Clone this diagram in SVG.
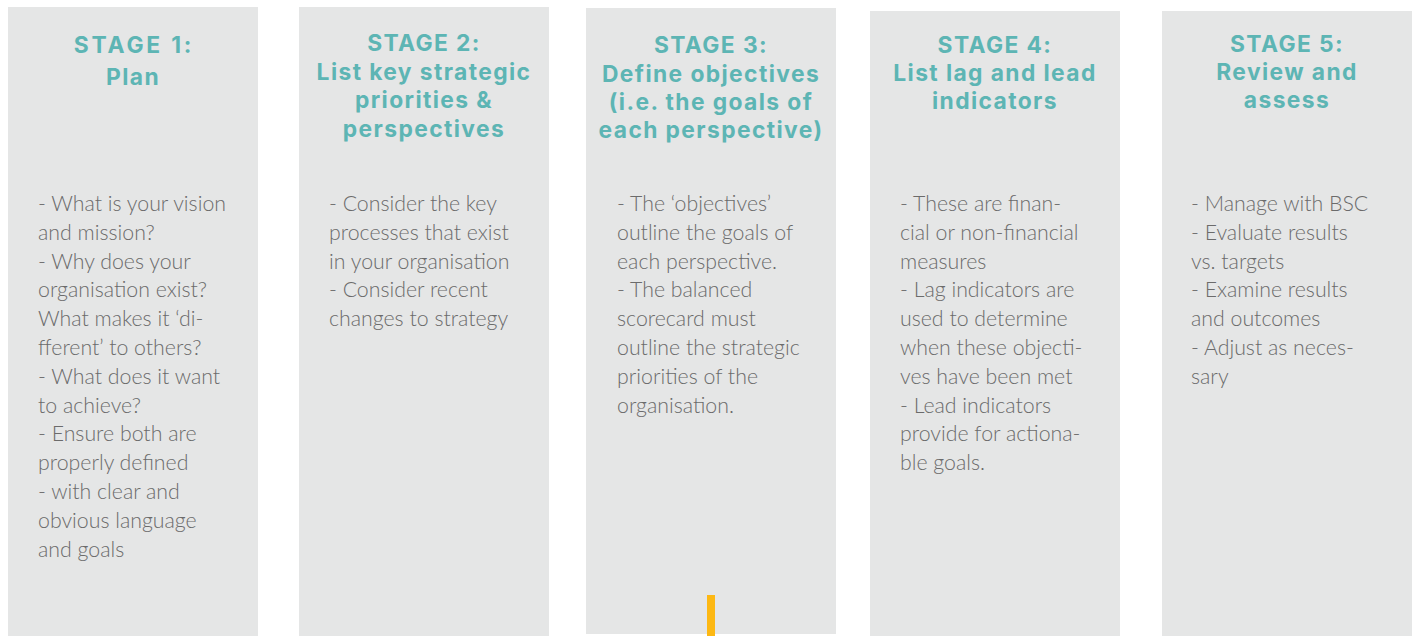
<svg xmlns="http://www.w3.org/2000/svg" width="1415" height="636" viewBox="0 0 1415 636">
  <style>
    .panel { fill: #e5e6e6; }
    .title { font-family: Inter, Roboto, "Liberation Sans", sans-serif; font-weight: 700; font-size: 22.8px; letter-spacing: 1.4px; fill: #5db5b4; text-anchor: middle; }
    .title.wide { letter-spacing: 2.8px; }
    .body { font-family: Lato, "Open Sans", "Liberation Sans", sans-serif; font-weight: 300; font-size: 21.3px; fill: #6b6b6b; }
  </style>
  <rect width="1415" height="636" fill="#ffffff"/>

  <!-- Stage 1 -->
  <g id="stage1">
    <rect class="panel" x="8" y="7" width="250" height="629"/>
    <text class="title wide" x="134" y="53">STAGE 1:</text>
    <text class="title" x="133" y="85">Plan</text>
    <text class="body" x="38" y="211">
      <tspan x="38" dy="0">- What is your vision</tspan>
      <tspan x="38" dy="28.8">and mission?</tspan>
      <tspan x="38" dy="28.8">- Why does your</tspan>
      <tspan x="38" dy="28.8">organisation exist?</tspan>
      <tspan x="38" dy="28.8">What makes it ‘di-</tspan>
      <tspan x="38" dy="28.8">fferent’ to others?</tspan>
      <tspan x="38" dy="28.8">- What does it want</tspan>
      <tspan x="38" dy="28.8">to achieve?</tspan>
      <tspan x="38" dy="28.8">- Ensure both are</tspan>
      <tspan x="38" dy="28.8">properly defined</tspan>
      <tspan x="38" dy="28.8">- with clear and</tspan>
      <tspan x="38" dy="28.8">obvious language</tspan>
      <tspan x="38" dy="28.8">and goals</tspan>
    </text>
  </g>

  <!-- Stage 2 -->
  <g id="stage2">
    <rect class="panel" x="299" y="7" width="250" height="629"/>
    <text class="title" x="424" y="51">STAGE 2:</text>
    <text class="title" x="424" y="80">List key strategic</text>
    <text class="title" x="424" y="108">priorities &amp;</text>
    <text class="title" x="424" y="137">perspectives</text>
    <text class="body" x="329" y="211">
      <tspan x="329" dy="0">- Consider the key</tspan>
      <tspan x="329" dy="28.8">processes that exist</tspan>
      <tspan x="329" dy="28.8">in your organisation</tspan>
      <tspan x="329" dy="28.8">- Consider recent</tspan>
      <tspan x="329" dy="28.8">changes to strategy</tspan>
    </text>
  </g>

  <!-- Stage 3 -->
  <g id="stage3">
    <rect class="panel" x="586" y="8" width="250" height="626"/>
    <text class="title" x="711" y="53">STAGE 3:</text>
    <text class="title" x="711" y="82">Define objectives</text>
    <text class="title" x="711" y="110">(i.e. the goals of</text>
    <text class="title" x="711" y="138">each perspective)</text>
    <text class="body" x="617" y="211">
      <tspan x="617" dy="0">- The ‘objectives’</tspan>
      <tspan x="617" dy="28.8">outline the goals of</tspan>
      <tspan x="617" dy="28.8">each perspective.</tspan>
      <tspan x="617" dy="28.8">- The balanced</tspan>
      <tspan x="617" dy="28.8">scorecard must</tspan>
      <tspan x="617" dy="28.8">outline the strategic</tspan>
      <tspan x="617" dy="28.8">priorities of the</tspan>
      <tspan x="617" dy="28.8">organisation.</tspan>
    </text>
    <!-- accent bar at the foot of the panel -->
    <rect x="707" y="595" width="8" height="41" fill="#fdb813"/>
  </g>

  <!-- Stage 4 -->
  <g id="stage4">
    <rect class="panel" x="870" y="11" width="250" height="625"/>
    <text class="title" x="995" y="53">STAGE 4:</text>
    <text class="title" x="995" y="81">List lag and lead</text>
    <text class="title" x="995" y="109">indicators</text>
    <text class="body" x="900" y="211">
      <tspan x="900" dy="0">- These are finan-</tspan>
      <tspan x="900" dy="28.8">cial or non-financial</tspan>
      <tspan x="900" dy="28.8">measures</tspan>
      <tspan x="900" dy="28.8">- Lag indicators are</tspan>
      <tspan x="900" dy="28.8">used to determine</tspan>
      <tspan x="900" dy="28.8">when these objecti-</tspan>
      <tspan x="900" dy="28.8">ves have been met</tspan>
      <tspan x="900" dy="28.8">- Lead indicators</tspan>
      <tspan x="900" dy="28.8">provide for actiona-</tspan>
      <tspan x="900" dy="28.8">ble goals.</tspan>
    </text>
  </g>

  <!-- Stage 5 -->
  <g id="stage5">
    <rect class="panel" x="1162" y="11" width="250" height="625"/>
    <text class="title" x="1287" y="52">STAGE 5:</text>
    <text class="title" x="1287" y="80">Review and</text>
    <text class="title" x="1287" y="108">assess</text>
    <text class="body" x="1191" y="211">
      <tspan x="1191" dy="0">- Manage with BSC</tspan>
      <tspan x="1191" dy="28.8">- Evaluate results</tspan>
      <tspan x="1191" dy="28.8">vs. targets</tspan>
      <tspan x="1191" dy="28.8">- Examine results</tspan>
      <tspan x="1191" dy="28.8">and outcomes</tspan>
      <tspan x="1191" dy="28.8">- Adjust as neces-</tspan>
      <tspan x="1191" dy="28.8">sary</tspan>
    </text>
  </g>

  <g id="connectors"/>
</svg>
